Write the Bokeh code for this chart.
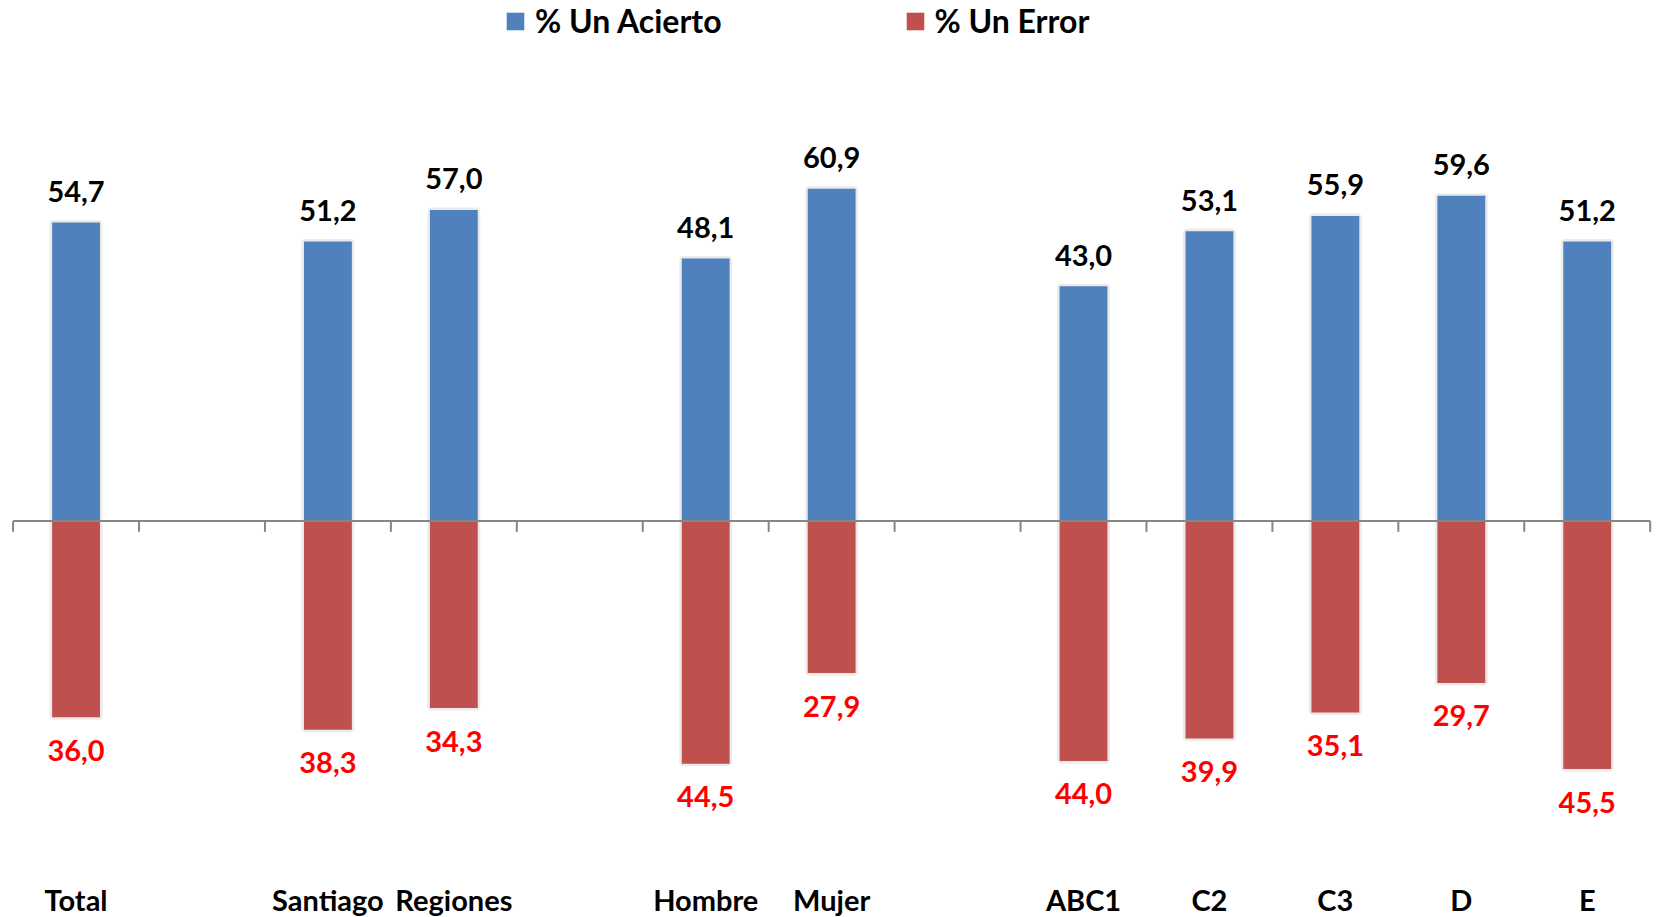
from bokeh.plotting import figure
from bokeh.models import ColumnDataSource, Range1d, Legend, LegendItem
from bokeh.core.properties import value
from bokeh.embed import file_html
from bokeh.resources import INLINE

# ---- data ----
categories = ["Total", "", "Santiago", "Regiones", "", "Hombre", "Mujer", "", "ABC1", "C2", "C3", "D", "E"]
acierto = [54.7, None, 51.2, 57.0, None, 48.1, 60.9, None, 43.0, 53.1, 55.9, 59.6, 51.2]
error = [36.0, None, 38.3, 34.3, None, 44.5, 27.9, None, 44.0, 39.9, 35.1, 29.7, 45.5]
series_names = ["% Un Acierto", "% Un Error"]

FONT = "Lato"
STYLE = "bold"
BLUE = "#4f81bd"
RED = "#c0504d"

def fmt(v):
    return f"{v:.1f}".replace(".", ",")

xs, a_vals, e_vals, a_lab, e_lab, cats = [], [], [], [], [], []
for i, (c, a, e) in enumerate(zip(categories, acierto, error)):
    if a is None:
        continue
    xs.append(i + 0.5)
    a_vals.append(a)
    e_vals.append(-e)
    a_lab.append(fmt(a))
    e_lab.append(fmt(e))
    cats.append(c)

n = len(categories)
Y0, Y1 = -72.7, 95.4
src = ColumnDataSource(dict(x=xs, a=a_vals, e=e_vals, al=a_lab, el=e_lab,
                            cat=cats, ybot=[Y0] * len(xs)))

p = figure(width=1656, height=917, output_backend="svg", toolbar_location=None, title=None,
           x_range=Range1d(-0.1, n + 0.05), y_range=Range1d(Y0, Y1),
           x_axis_location=None, y_axis_location=None,
           min_border_left=0, min_border_right=0, min_border_top=0, min_border_bottom=0)
p.outline_line_color = None
p.grid.visible = False
p.background_fill_color = "white"
p.border_fill_color = "white"

bw = 0.38
# faint halo around the bars
p.vbar(x="x", top="a", bottom=0, width=bw, source=src, fill_color=BLUE,
       line_color="#ebebeb", line_width=5)
p.vbar(x="x", top=0, bottom="e", width=bw, source=src, fill_color=RED,
       line_color="#ebebeb", line_width=5)
rb = p.vbar(x="x", top="a", bottom=0, width=bw, source=src, fill_color=BLUE, line_color=None)
rr = p.vbar(x="x", top=0, bottom="e", width=bw, source=src, fill_color=RED, line_color=None)

# baseline axis at zero with tick marks at slot boundaries
p.segment(x0=[0], y0=[0], x1=[n], y1=[0], line_color="#868686", line_width=2)
p.segment(x0=list(range(n + 1)), y0=[0] * (n + 1), x1=list(range(n + 1)),
          y1=[-2.0] * (n + 1), line_color="#868686", line_width=2)

# data labels
p.text(x="x", y="a", text="al", source=src, text_align="center", text_baseline="alphabetic",
       y_offset=-31, text_font=value(FONT), text_font_style=STYLE, text_font_size="29px",
       text_color="black")
p.text(x="x", y="e", text="el", source=src, text_align="center", text_baseline="alphabetic",
       y_offset=33, text_font=value(FONT), text_font_style=STYLE, text_font_size="29px",
       text_color="#ff0000")

# category labels along the bottom
p.text(x="x", y="ybot", text="cat", source=src, text_align="center", text_baseline="alphabetic",
       y_offset=-18, text_font=value(FONT), text_font_style=STYLE, text_font_size="29px",
       text_color="black")

legend = Legend(items=[LegendItem(label=series_names[0], renderers=[rb]),
                       LegendItem(label=series_names[1], renderers=[rr])],
                orientation="horizontal", location=(504, 877),
                glyph_width=22, glyph_height=22, label_standoff=9, spacing=182,
                padding=0, margin=0, border_line_color=None, background_fill_alpha=0,
                label_text_font=FONT, label_text_font_style=STYLE,
                label_text_font_size="32px", label_text_color="black")
p.add_layout(legend)

open("out.html", "w").write(file_html(p, INLINE))
